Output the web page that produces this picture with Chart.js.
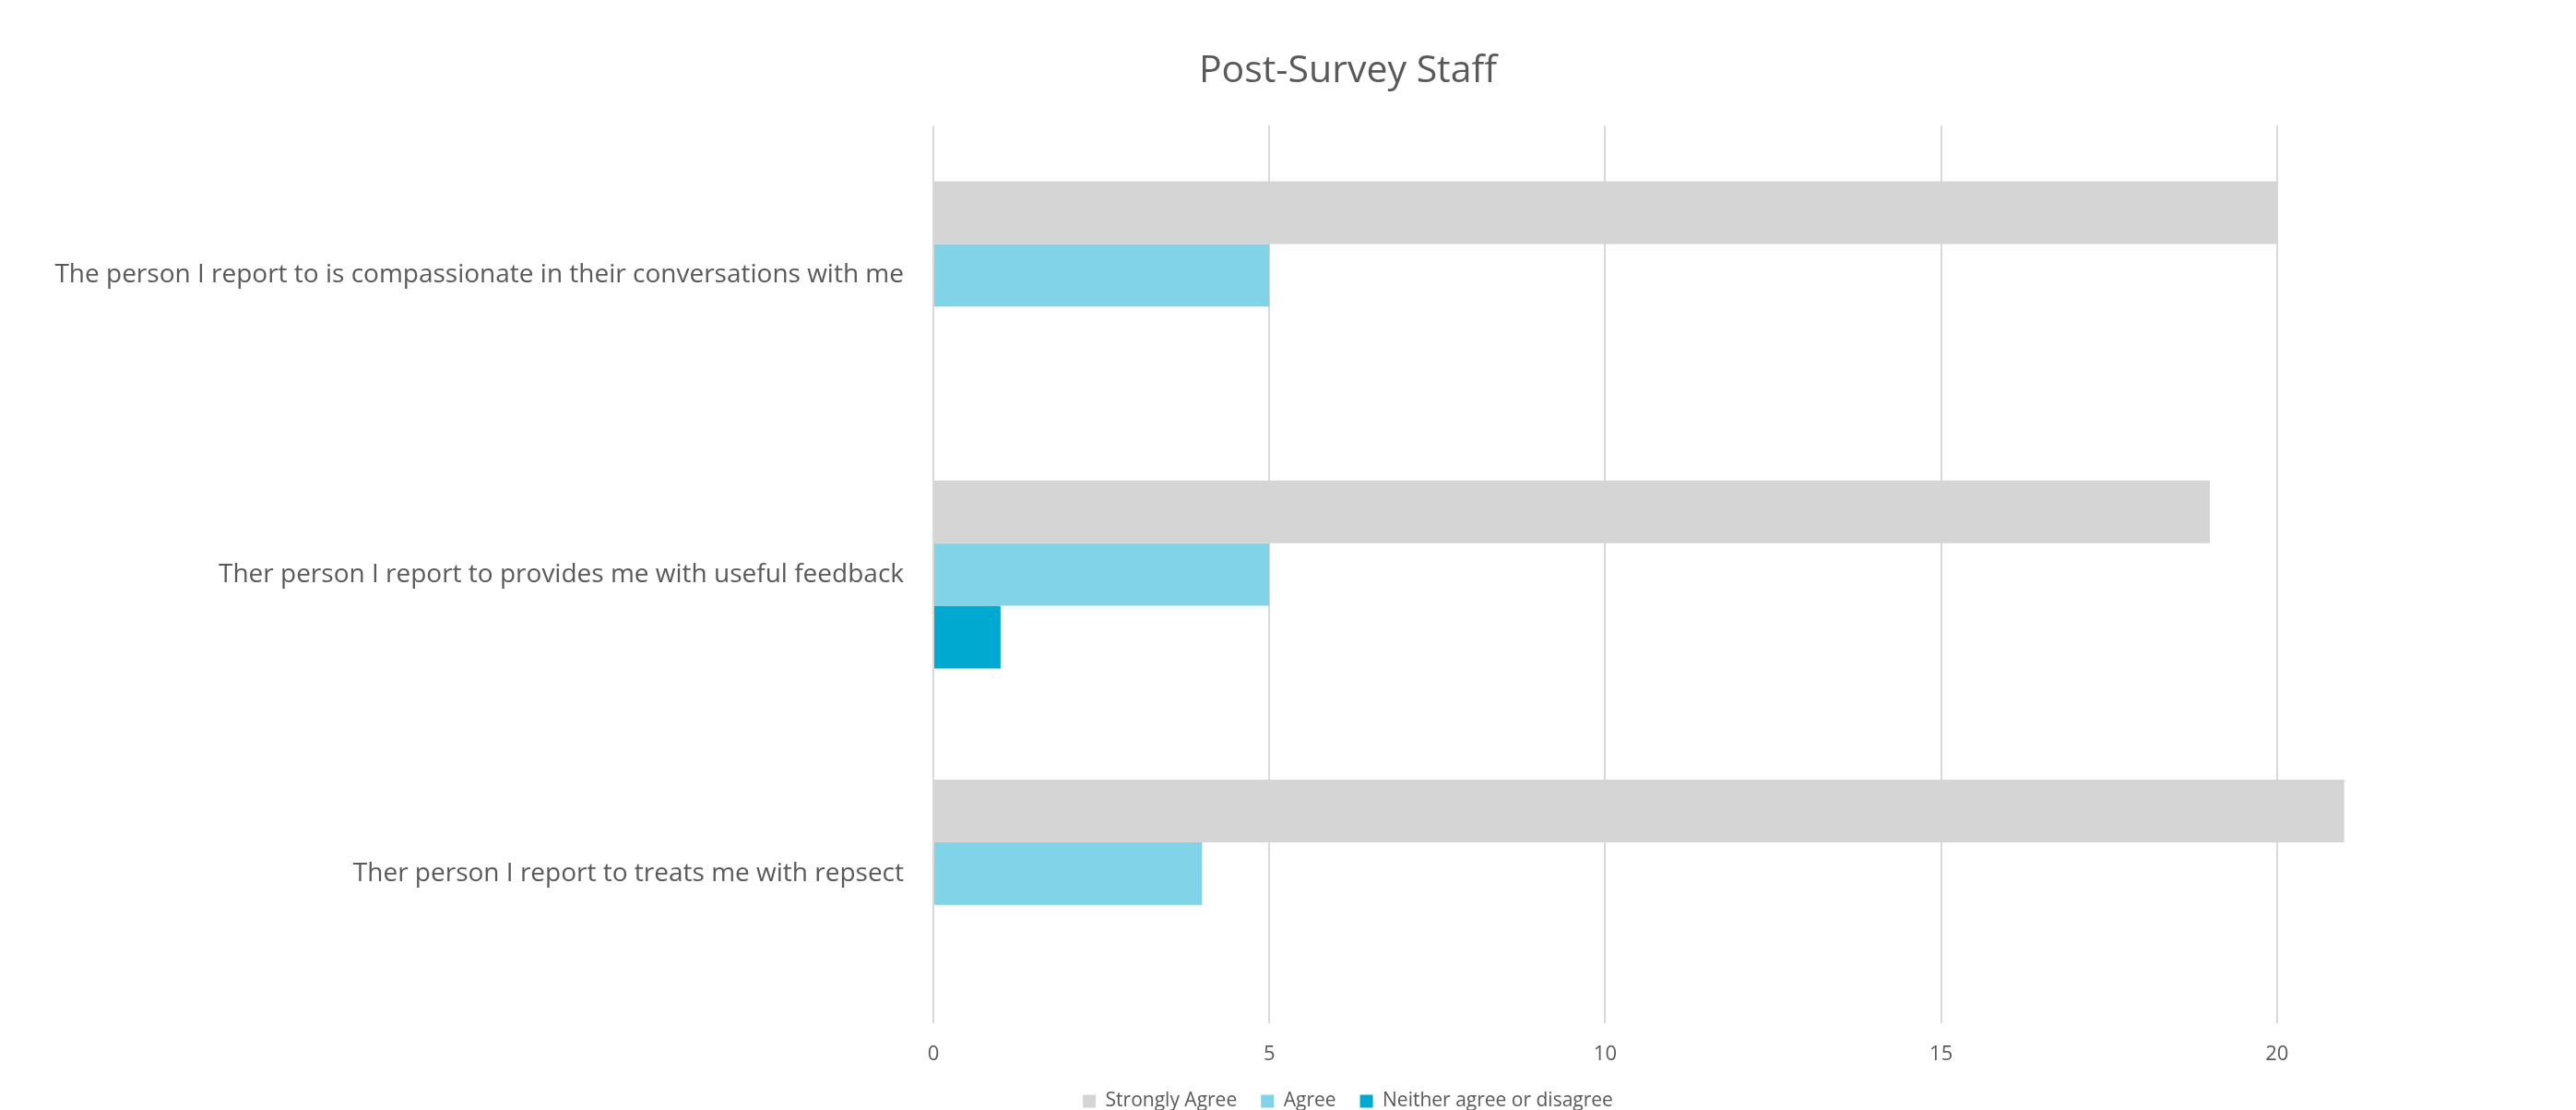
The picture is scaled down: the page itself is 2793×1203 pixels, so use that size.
<!DOCTYPE html>
<html>
<head>
<meta charset="utf-8">
<script src="https://cdn.jsdelivr.net/npm/chart.js@4/dist/chart.umd.min.js"></script>
<style>
  html, body { margin: 0; padding: 0; background: #ffffff; overflow: hidden; }
  #wrap { width: 2793px; height: 1203px; position: relative; }
</style>
</head>
<body>
<div id="wrap"><canvas id="c"></canvas></div>
<script>
const categories = [
  "The person I report to is compassionate in their conversations with me",
  "Ther person I report to provides me with useful feedback",
  "Ther person I report to treats me with repsect"
];
const seriesNames = ["Strongly Agree", "Agree", "Neither agree or disagree"];
const stronglyAgree = [20, 19, 21];
const agree = [5, 5, 4];
const neither = [0, 1, 0];
const axisMax = 24.45;
const axisStep = 5;
const visibleTickMax = 20;

const colors = ["#d5d5d5", "#81d3e7", "#00a9d0"];
const FONT = "'Open Sans', 'Noto Sans', sans-serif";
const TEXT = "#595959";

const datasets = [stronglyAgree, agree, neither].map((d, i) => ({
  label: seriesNames[i],
  data: d,
  backgroundColor: colors[i],
  borderWidth: 0,
  categoryPercentage: 0.628,
  barPercentage: 1.0
}));

// The original's title and legend are centred on a slightly wider frame;
// shift their layout boxes to the right after layout.
const centreShift = {
  id: 'centreShift',
  afterLayout(chart) {
    const s = 130;
    if (chart.titleBlock) chart.titleBlock.left += s;
    if (chart.legend) chart.legend.left += s;
  }
};

new Chart(document.getElementById('c'), {
  type: 'bar',
  data: { labels: categories, datasets },
  plugins: [centreShift],
  options: {
    indexAxis: 'y',
    responsive: true,
    maintainAspectRatio: false,
    animation: false,
    layout: { padding: { left: 0, right: 0, top: 53, bottom: 0 } },
    plugins: {
      title: {
        display: true,
        text: "Post-Survey Staff",
        color: TEXT,
        font: { family: FONT, size: 41, weight: 'normal' },
        padding: { top: 0, bottom: 34 }
      },
      legend: {
        display: true,
        position: 'bottom',
        maxHeight: 46,
        labels: {
          color: TEXT,
          font: { family: FONT, size: 21 },
          boxWidth: 14,
          boxHeight: 14,
          padding: 26
        }
      },
      tooltip: { enabled: false }
    },
    scales: {
      x: {
        min: 0,
        max: axisMax,
        ticks: {
          stepSize: axisStep,
          color: TEXT,
          font: { family: FONT, size: 22 },
          padding: 21
        },
        afterBuildTicks: (scale) => {
          scale.ticks = scale.ticks.filter(t => t.value <= visibleTickMax);
        },
        afterFit: (scale) => { scale.height = 48; },
        grid: { color: "#d9d9d9", lineWidth: 2, drawTicks: false },
        border: { display: false }
      },
      y: {
        ticks: {
          color: TEXT,
          font: { family: FONT, size: 28 },
          padding: 32
        },
        afterFit: (scale) => { scale.width = 1012; },
        grid: { display: false, drawTicks: false, tickLength: 0 },
        border: { display: false }
      }
    }
  }
});
</script>
</body>
</html>
